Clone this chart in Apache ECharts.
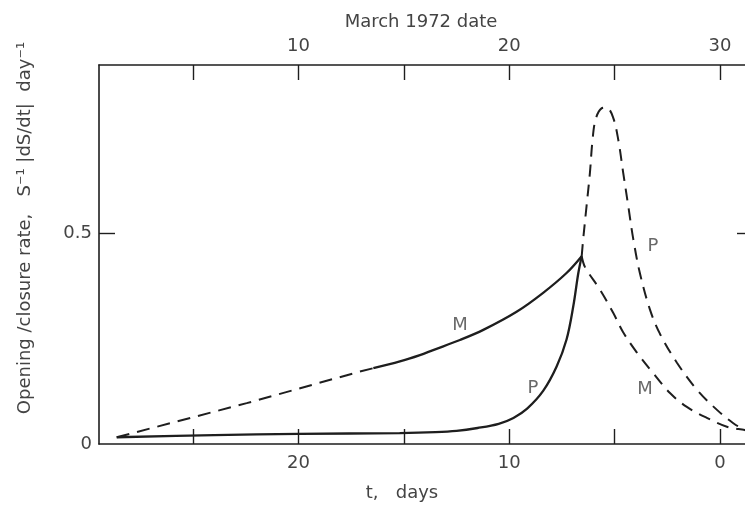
<!DOCTYPE html>
<html>
<head>
<meta charset="utf-8">
<script src="https://cdn.jsdelivr.net/npm/echarts@6/dist/echarts.min.js"></script>
<style>
html,body{margin:0;padding:0;background:#fff;}
#c{width:745px;height:506px;}
</style>
</head>
<body>
<div id="c"></div>
<script>
// t (days) vs opening/closure rate
const mSolid = [[16.45,0.180],[15.19,0.196],[14.24,0.211],[13.61,0.223],[12.34,0.247],[11.23,0.271],[9.65,0.314],[8.39,0.359],[7.28,0.406],[6.56,0.446]];
const mDashedLeft = [[28.63,0.016],[22.46,0.097],[17.09,0.172],[16.45,0.180]];
const mDashedRight = [[6.56,0.446],[6.4,0.42],[5.7,0.367],[5.06,0.311],[4.6,0.266],[3.94,0.217],[3.18,0.169],[2.37,0.121],[1.57,0.088],[0.62,0.062],[-0.33,0.041],[-1.19,0.033],[-1.57,0.029]];
const pSolid = [[28.63,0.016],[24,0.021],[20,0.024],[15.2,0.026],[13.5,0.028],[12.5,0.031],[11.5,0.038],[10.5,0.048],[9.8,0.062],[9.15,0.084],[8.39,0.126],[7.75,0.184],[7.28,0.248],[6.96,0.327],[6.72,0.406],[6.56,0.446]];
const pDashed = [[6.56,0.446],[6.49,0.486],[6.33,0.565],[6.17,0.644],[6.05,0.72],[5.9,0.771],[5.62,0.797],[5.38,0.799],[5.08,0.777],[4.83,0.724],[4.59,0.644],[4.35,0.565],[4.11,0.486],[3.8,0.406],[3.32,0.319],[2.85,0.262],[2.04,0.193],[1.09,0.129],[0.14,0.081],[-0.62,0.050],[-1.19,0.033],[-1.57,0.026]];
const curveLabels = [[12.34,0.281,'M'],[8.87,0.133,'P'],[3.18,0.469,'P'],[3.56,0.129,'M']];
const bottomTicks = [0,5,10,15,20,25];
const bottomLabels = [0,10,20];
const topTicks = [5,10,15,20,25,30];
const topLabels = [10,20,30];
const yTicks = [0.5];
const yLabels = [0,0.5];

const FONT = 'DejaVu Sans';
const INK = '#1e1e1e';
const TXT = '#444444';

const chart = echarts.init(document.getElementById('c'), null, {renderer:'canvas'});
const lineBase = {type:'line', showSymbol:false, symbol:'none', smooth:0.35, xAxisIndex:0, yAxisIndex:0, animation:false};
const axisLine = {show:true, onZero:false, lineStyle:{color:INK, width:1.6}};
chart.setOption({
  animation:false,
  backgroundColor:'#ffffff',
  grid:{left:99, top:65, width:654, height:379, containLabel:false, outerBoundsMode:'none'},
  xAxis:[
    {type:'value', position:'bottom', inverse:true, min:-1.57, max:29.47,
     axisLine:axisLine, splitLine:{show:false},
     axisTick:{show:true, inside:true, length:15, customValues:bottomTicks, lineStyle:{color:INK,width:1.4}},
     axisLabel:{show:true, customValues:bottomLabels, margin:10, fontSize:18, fontFamily:FONT, color:TXT}},
    {type:'value', position:'top', min:0.53, max:31.57,
     axisLine:axisLine, splitLine:{show:false},
     axisTick:{show:true, inside:true, length:15, customValues:topTicks, lineStyle:{color:INK,width:1.4}},
     axisLabel:{show:true, customValues:topLabels, margin:10, fontSize:18, fontFamily:FONT, color:TXT}}
  ],
  yAxis:[
    {type:'value', position:'left', min:0, max:0.9,
     axisLine:axisLine, splitLine:{show:false},
     axisTick:{show:true, inside:true, length:16, customValues:yTicks, lineStyle:{color:INK,width:1.4}},
     axisLabel:{show:true, customValues:yLabels, margin:7, fontSize:18, fontFamily:FONT, color:TXT,
       formatter:function(v){return v===0?'0':String(v);}}},
    {type:'value', position:'right', min:0, max:0.9,
     axisLine:axisLine, splitLine:{show:false},
     axisTick:{show:true, inside:true, length:16, customValues:yTicks, lineStyle:{color:INK,width:1.4}},
     axisLabel:{show:false}}
  ],
  series:[
    Object.assign({}, lineBase, {name:'M solid', data:mSolid, lineStyle:{color:INK, width:2.3}}),
    Object.assign({}, lineBase, {name:'M dashed left', data:mDashedLeft, smooth:false, lineStyle:{color:INK, width:2, type:[13,8]}}),
    Object.assign({}, lineBase, {name:'M dashed right', data:mDashedRight, lineStyle:{color:INK, width:2, type:[12,8]}}),
    Object.assign({}, lineBase, {name:'P solid', data:pSolid, lineStyle:{color:INK, width:2.3}}),
    Object.assign({}, lineBase, {name:'P dashed', data:pDashed, lineStyle:{color:INK, width:2, type:[12,8]}}),
    {type:'scatter', xAxisIndex:0, yAxisIndex:0, symbolSize:1, itemStyle:{color:'rgba(0,0,0,0)'},
     data:curveLabels.map(d=>({value:[d[0],d[1]], name:d[2]})),
     label:{show:true, position:'inside', formatter:'{b}', fontSize:18, fontFamily:FONT, color:TXT}, silent:true}
  ],
  graphic:[
    {type:'text', x:421, y:22, style:{text:'March 1972 date', font:'18px "DejaVu Sans"', fill:TXT, textAlign:'center', textVerticalAlign:'middle'}},
    {type:'text', x:402, y:493, style:{text:'t,   days', font:'18px "DejaVu Sans"', fill:TXT, textAlign:'center', textVerticalAlign:'middle'}},
    {type:'text', x:25, y:228, rotation:Math.PI/2, style:{text:'Opening /closure rate,   S\u207B\u00B9 |dS/dt|  day\u207B\u00B9', font:'18px "DejaVu Sans"', fill:TXT, textAlign:'center', textVerticalAlign:'middle'}}
  ]
});
</script>
</body>
</html>
